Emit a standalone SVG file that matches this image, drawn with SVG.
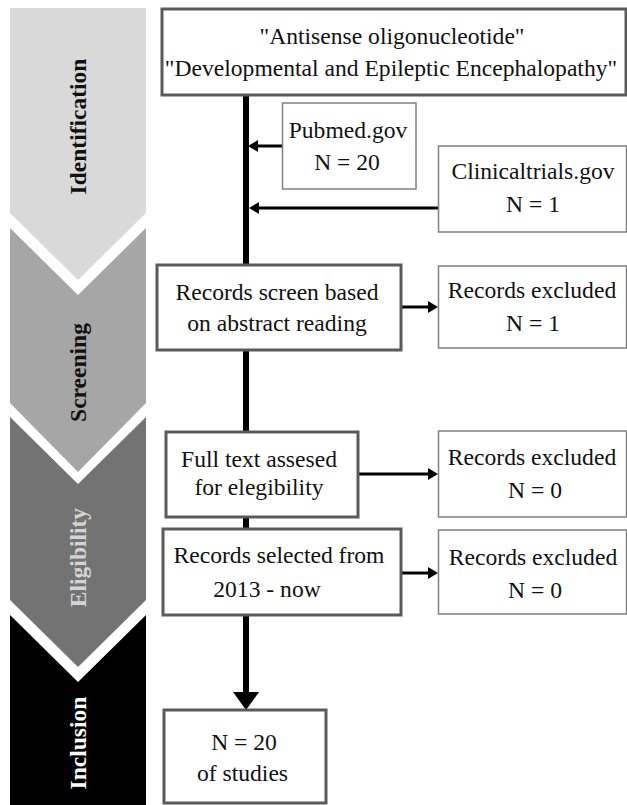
<svg xmlns="http://www.w3.org/2000/svg" width="627" height="805" viewBox="0 0 627 805">
<defs>
<style>
.box-thick{fill:#fff;stroke:#5a5a5a;stroke-width:3}
.box-thin{fill:#fff;stroke:#808080;stroke-width:1.5}
.t{font-family:"Liberation Serif","Times New Roman",serif;font-size:23.6px;fill:#111;text-anchor:middle}
.lbl{font-family:"Liberation Serif","Times New Roman",serif;font-size:23.5px;font-weight:bold;text-anchor:middle}
.main{stroke:#000;stroke-width:6;fill:none}
.conn{stroke:#000;stroke-width:3;fill:none}
</style>
<marker id="ah" markerUnits="userSpaceOnUse" markerWidth="10" markerHeight="12" refX="0" refY="6" orient="auto">
<path d="M0,0 L10,6 L0,12 z" fill="#000"/>
</marker>
<marker id="ahBig" markerUnits="userSpaceOnUse" markerWidth="18" markerHeight="26" refX="0" refY="13" orient="auto">
<path d="M0,0 L18,13 L0,26 z" fill="#000"/>
</marker>
</defs>
<rect width="627" height="805" fill="#fff"/>

<g id="phases">
<g id="phase-identification">
<polygon points="10,8 146,8 146,213 78,280 10,213" fill="#d9d9d9"/>
<text class="lbl" fill="#111" transform="translate(86,126.5) rotate(-90)">Identification</text>
</g>
<g id="phase-screening">
<polygon points="10,228 78,295 146,228 146,403 78,472 10,403" fill="#a6a6a6"/>
<text class="lbl" fill="#111" transform="translate(86,372.5) rotate(-90)">Screening</text>
</g>
<g id="phase-eligibility">
<polygon points="10,417 78,484 146,417 146,600 78,667 10,600" fill="#737373"/>
<text class="lbl" fill="#d4d4d4" transform="translate(86,557.5) rotate(-90)">Eligibility</text>
</g>
<g id="phase-inclusion">
<polygon points="10,615 78,682 146,615 146,805 10,805" fill="#000"/>
<text class="lbl" fill="#fff" transform="translate(86,743) rotate(-90)">Inclusion</text>
</g>
</g>

<g id="connectors">
<line class="main" x1="246" y1="95" x2="246" y2="692" marker-end="url(#ahBig)"/>
<line class="conn" x1="282" y1="146" x2="258" y2="146" marker-end="url(#ah)"/>
<line class="conn" x1="438" y1="208" x2="259" y2="208" marker-end="url(#ah)"/>
<line class="conn" x1="402" y1="307" x2="428" y2="307" marker-end="url(#ah)"/>
<line class="conn" x1="358" y1="474" x2="428" y2="474" marker-end="url(#ah)"/>
<line class="conn" x1="401" y1="573" x2="428" y2="573" marker-end="url(#ah)"/>
</g>

<g id="search-terms">
<rect class="box-thick" x="162" y="9" width="464" height="86"/>
<text class="t" x="392" y="44">"Antisense oligonucleotide"</text>
<text class="t" x="391" y="76">"Developmental and Epileptic Encephalopathy"</text>
</g>
<g id="pubmed">
<rect class="box-thin" x="282.5" y="103" width="133.5" height="86"/>
<text class="t" x="348" y="138">Pubmed.gov</text>
<text class="t" x="347" y="170">N = 20</text>
</g>
<g id="clinicaltrials">
<rect class="box-thin" x="438.5" y="146" width="188" height="86"/>
<text class="t" x="533" y="179">Clinicaltrials.gov</text>
<text class="t" x="533" y="212">N = 1</text>
</g>
<g id="records-screen">
<rect class="box-thick" x="157" y="265" width="244" height="85"/>
<text class="t" x="277" y="300">Records screen based</text>
<text class="t" x="277" y="331">on abstract reading</text>
</g>
<g id="excluded-1">
<rect class="box-thin" x="438.5" y="266" width="188" height="82"/>
<text class="t" x="532" y="298">Records excluded</text>
<text class="t" x="533" y="331">N = 1</text>
</g>
<g id="full-text">
<rect class="box-thick" x="166" y="432" width="192" height="85"/>
<text class="t" x="259" y="467">Full text assesed</text>
<text class="t" x="259" y="495">for elegibility</text>
</g>
<g id="excluded-2">
<rect class="box-thin" x="438.5" y="431" width="188" height="86"/>
<text class="t" x="532" y="465">Records excluded</text>
<text class="t" x="535" y="498">N = 0</text>
</g>
<g id="records-selected">
<rect class="box-thick" x="163" y="529" width="238" height="86"/>
<text class="t" x="279" y="563">Records selected from</text>
<text class="t" x="267" y="597">2013 - now</text>
</g>
<g id="excluded-3">
<rect class="box-thin" x="438.5" y="530" width="188" height="84"/>
<text class="t" x="533" y="565">Records excluded</text>
<text class="t" x="535" y="598">N = 0</text>
</g>
<g id="included">
<rect class="box-thick" x="164" y="710" width="162" height="93"/>
<text class="t" x="244" y="750">N = 20</text>
<text class="t" x="242.5" y="781">of studies</text>
</g>
</svg>
